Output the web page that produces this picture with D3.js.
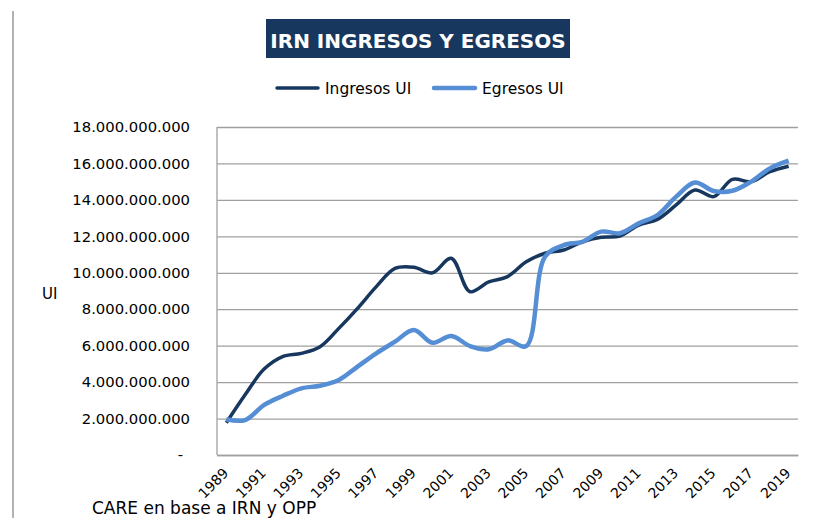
<!DOCTYPE html>
<html>
<head>
<meta charset="utf-8">
<script src="https://cdn.jsdelivr.net/npm/d3@7"></script>
<style>
  body { margin: 0; background: #fff; }
  text { font-family: "DejaVu Sans", sans-serif; fill: #000; }
</style>
</head>
<body>
<div id="chart"></div>
<script>
// years on the category axis
var years = d3.range(1989, 2020);
// only every other year gets a label
var tickYears = years.filter(y => (y - 1989) % 2 == 0);
var yTicks = [0, 2e9, 4e9, 6e9, 8e9, 10e9, 12e9, 14e9, 16e9, 18e9];

// values (UI)
var ingresos = [1.77e9, 3.3e9, 4.7e9, 5.4e9, 5.58e9, 5.94e9, 6.95e9, 8.05e9, 9.24e9, 10.24e9,
                10.3e9, 10.0e9, 10.8e9, 8.96e9, 9.5e9, 9.79e9, 10.6e9, 11.07e9, 11.25e9, 11.7e9,
                11.95e9, 12.02e9, 12.62e9, 12.93e9, 13.72e9, 14.54e9, 14.18e9, 15.13e9, 15.0e9, 15.55e9,
                15.85e9];
var egresos = [1.96e9, 1.92e9, 2.74e9, 3.24e9, 3.66e9, 3.8e9, 4.12e9, 4.85e9, 5.58e9, 6.22e9,
               6.86e9, 6.16e9, 6.53e9, 5.98e9, 5.8e9, 6.29e9, 5.98e9, 10.88e9, 11.52e9, 11.7e9,
               12.26e9, 12.17e9, 12.71e9, 13.17e9, 14.18e9, 14.95e9, 14.49e9, 14.5e9, 15.0e9, 15.73e9,
               16.15e9];

var series = [
  {name: "Ingresos UI", values: ingresos, color: "#17375e", width: 3.5},
  {name: "Egresos UI", values: egresos, color: "#558ed5", width: 4.5}
];

function getConfig(){
    let width = 822, height = 518;
    let margin = {top: 127, right: 24, bottom: 63, left: 217};
    let plot = {};
    plot.w = width - margin.left - margin.right;
    plot.h = height - margin.top - margin.bottom;
    plot.grid = "#a0a0a0";
    return {width, height, margin, plot};
}

function draw(){
    let config = getConfig();
    let svg = d3.select("#chart").append("svg")
        .attr("width", config.width)
        .attr("height", config.height);

    // stray border at the left of the original picture
    svg.append("line")
        .attr("x1", 13).attr("x2", 13).attr("y1", 11).attr("y2", config.height)
        .attr("stroke", "#999").attr("stroke-width", 1.5);

    // title box
    svg.append("rect")
        .attr("x", 266).attr("y", 19).attr("width", 304).attr("height", 39)
        .attr("fill", "#17375e");
    svg.append("text")
        .attr("x", 418).attr("y", 48)
        .attr("text-anchor", "middle")
        .attr("font-size", 20).attr("font-weight", "bold")
        .style("fill", "#fff")
        .text("IRN INGRESOS Y EGRESOS");

    // legend
    let legendPos = [{x: 277, tx: 325}, {x: 434, tx: 482}];
    series.forEach((s, i) => {
        svg.append("line")
            .attr("x1", legendPos[i].x).attr("x2", legendPos[i].x + 41)
            .attr("y1", 88).attr("y2", 88)
            .attr("stroke", s.color).attr("stroke-width", s.width)
            .attr("stroke-linecap", "round");
        svg.append("text")
            .attr("x", legendPos[i].tx).attr("y", 94)
            .attr("font-size", 15.5)
            .text(s.name);
    });

    let g = svg.append("g")
        .attr("transform", `translate(${config.margin.left},${config.margin.top})`);

    let xScale = d3.scaleBand().domain(years).range([0, config.plot.w]);
    let yScale = d3.scaleLinear().domain([0, 18e9]).range([config.plot.h, 0]);

    // gridlines + y labels
    let fmt = v => v == 0 ? "-" : d3.format(",")(v).replace(/,/g, ".");
    let yAx = g.append("g")
        .call(d3.axisLeft(yScale).tickValues(yTicks).tickSize(-config.plot.w).tickFormat(fmt).tickPadding(27))
        .call(a => a.select(".domain").remove())
        .call(a => a.selectAll(".tick line").attr("stroke", config.plot.grid).attr("stroke-width", 1.3))
        .call(a => a.selectAll(".tick text")
            .attr("font-size", 14.8).attr("font-family", "DejaVu Sans").style("fill", "#000"));
    yAx.selectAll(".tick").filter(d => d == 0).select("text").attr("x", -34);

    // left and bottom axis lines
    g.append("line").attr("x1", 0).attr("x2", 0).attr("y1", 0).attr("y2", config.plot.h)
        .attr("stroke", config.plot.grid).attr("stroke-width", 1.3);

    // x labels, rotated
    let xAx = g.append("g")
        .attr("transform", `translate(0,${config.plot.h})`)
        .call(d3.axisBottom(xScale).tickValues(tickYears).tickSize(0))
        .call(a => a.select(".domain").attr("stroke", config.plot.grid).attr("stroke-width", 1.3));
    xAx.selectAll(".tick text")
        .attr("font-size", 14).attr("font-family", "DejaVu Sans").style("fill", "#000")
        .attr("text-anchor", "end")
        .attr("y", 0).attr("dy", 0)
        .attr("transform", "translate(3,19) rotate(-45)");

    // lines
    let line = d3.line()
        .x((d, i) => xScale(years[i]) + xScale.bandwidth() / 2)
        .y(d => yScale(d))
        .curve(d3.curveCatmullRom.alpha(0.5));
    series.forEach(s => {
        g.append("path")
            .attr("d", line(s.values))
            .attr("fill", "none")
            .attr("stroke", s.color)
            .attr("stroke-width", s.width)
            .attr("stroke-linejoin", "round");
    });

    // axis title
    svg.append("text").attr("x", 42).attr("y", 299).attr("font-size", 15).text("UI");

    // source note, drawn over the x labels as in the original
    svg.append("text").attr("x", 92).attr("y", 514).attr("font-size", 17)
        .text("CARE en base a IRN y OPP");
}

draw();
</script>
</body>
</html>
